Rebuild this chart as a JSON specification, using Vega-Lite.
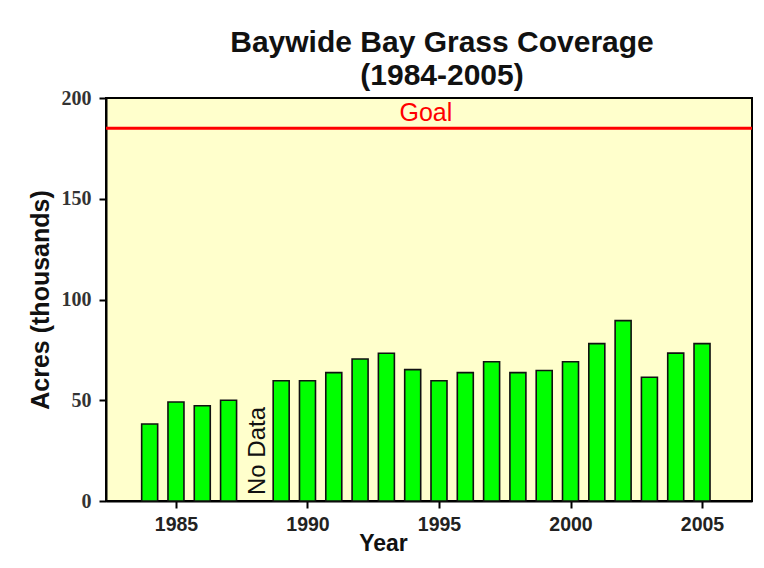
{
  "$schema": "https://vega.github.io/schema/vega-lite/v6.json",
  "autosize": {"type": "none"},
  "width": 646,
  "height": 403,
  "padding": {"left": 106, "top": 98, "right": 12, "bottom": 67},
  "background": "#ffffff",
  "title": {
    "text": ["Baywide Bay Grass Coverage", "(1984-2005)"],
    "font": "Liberation Sans",
    "fontSize": 30,
    "fontWeight": "bold",
    "color": "#111111",
    "anchor": "middle",
    "dx": 13,
    "offset": -3,
    "lineHeight": 33
  },
  "config": {
    "view": {"fill": "#ffffcc", "stroke": "#000000", "strokeWidth": 2}
  },
  "datasets": {
    "bars": [
      {"year": 1984, "acres": 38.2},
      {"year": 1985, "acres": 49.1},
      {"year": 1986, "acres": 47.3},
      {"year": 1987, "acres": 50.0},
      {"year": 1989, "acres": 59.7},
      {"year": 1990, "acres": 59.7},
      {"year": 1991, "acres": 63.7},
      {"year": 1992, "acres": 70.5},
      {"year": 1993, "acres": 73.3},
      {"year": 1994, "acres": 65.2},
      {"year": 1995, "acres": 59.7},
      {"year": 1996, "acres": 63.7},
      {"year": 1997, "acres": 69.1},
      {"year": 1998, "acres": 63.7},
      {"year": 1999, "acres": 64.8},
      {"year": 2000, "acres": 69.1},
      {"year": 2001, "acres": 78.1},
      {"year": 2002, "acres": 89.5},
      {"year": 2003, "acres": 61.4},
      {"year": 2004, "acres": 73.4},
      {"year": 2005, "acres": 78.1}
    ],
    "goal": [{"label": "Goal", "value": 185, "year": 1994.5}],
    "nodata": [{"label": "No Data", "year": 1988, "acres": 0}]
  },
  "layer": [
    {
      "data": {"name": "bars"},
      "mark": {"type": "bar", "size": 16, "fill": "#00ff00", "stroke": "#111111", "strokeWidth": 1.6},
      "encoding": {
        "x": {
          "field": "year",
          "type": "quantitative",
          "scale": {"domain": [1982.53, 2006.71], "nice": false, "zero": false},
          "axis": {
            "values": [1985, 1990, 1995, 2000, 2005],
            "format": "d",
            "grid": false,
            "domain": true,
            "domainColor": "#000000",
            "domainWidth": 2,
            "tickColor": "#000000",
            "tickWidth": 2,
            "tickSize": 7,
            "labelFont": "Liberation Sans",
            "labelFontSize": 19.5,
            "labelFontWeight": "bold",
            "labelColor": "#222222",
            "labelPadding": 7,
            "title": "Year",
            "titleFont": "Liberation Sans",
            "titleFontSize": 23,
            "titleFontWeight": "bold",
            "titleColor": "#111111",
            "titleX": 277,
            "titleY": 31,
            "titleBaseline": "top",
            "titleAnchor": "middle"
          }
        },
        "y": {
          "field": "acres",
          "type": "quantitative",
          "scale": {"domain": [0, 200], "nice": false},
          "axis": {
            "values": [0, 50, 100, 150, 200],
            "grid": false,
            "domainColor": "#000000",
            "domainWidth": 2,
            "tickColor": "#000000",
            "tickWidth": 2,
            "tickSize": 7,
            "labelFont": "Liberation Serif",
            "labelFontSize": 20,
            "labelFontWeight": "bold",
            "labelColor": "#333333",
            "labelPadding": 8,
            "title": "Acres (thousands)",
            "titleFont": "Liberation Sans",
            "titleFontSize": 25,
            "titleFontWeight": "bold",
            "titleColor": "#111111",
            "titlePadding": 8
          }
        }
      }
    },
    {
      "data": {"name": "goal"},
      "mark": {"type": "rule", "color": "#ff0000", "strokeWidth": 3},
      "encoding": {"y": {"field": "value", "type": "quantitative"}}
    },
    {
      "data": {"name": "goal"},
      "mark": {"type": "text", "color": "#ff0000", "font": "Liberation Sans", "fontSize": 25, "baseline": "bottom", "align": "center", "dy": -2},
      "encoding": {
        "x": {"field": "year", "type": "quantitative"},
        "y": {"field": "value", "type": "quantitative"},
        "text": {"field": "label"}
      }
    },
    {
      "data": {"name": "nodata"},
      "mark": {"type": "text", "color": "#111111", "font": "Liberation Sans", "fontSize": 24, "angle": 270, "align": "left", "baseline": "middle", "dx": 6, "dy": 3},
      "encoding": {
        "x": {"field": "year", "type": "quantitative"},
        "y": {"field": "acres", "type": "quantitative"},
        "text": {"field": "label"}
      }
    }
  ]
}
